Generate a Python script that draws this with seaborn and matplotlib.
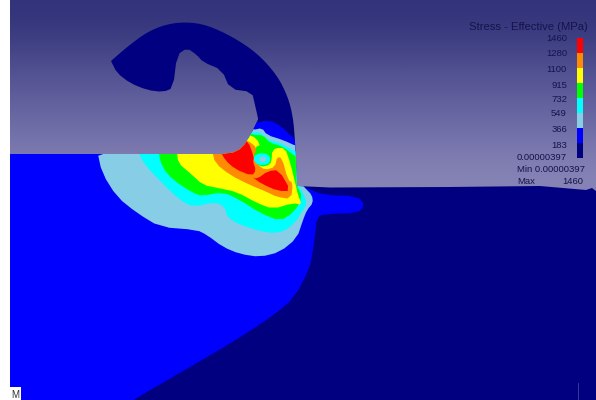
import numpy as np
import matplotlib
matplotlib.use('Agg')
import matplotlib.pyplot as plt
from matplotlib.colors import ListedColormap, to_rgb
from matplotlib.patches import Polygon
import seaborn as sns

# contour colours and legend
band_colors = ['#000080', '#0000ff', '#87cde6', '#00ffff', '#00ff00', '#ffff00', '#ff8c00', '#ff0000']
tick_labels = ['1460', '1280', '1100', '915', '732', '549', '366', '183']
legend_title = 'Stress - Effective (MPa)'
min_label = '0.00000397'

# background gradient, top to bottom
sky_colors = ['#32337a', '#4a4a8c', '#605e9c', '#7472aa', '#8784b6']

# outlines, in picture pixels
hook_inner = [(222, 154), (237, 152), (247, 142), (258, 120), (258, 118), (255, 105),
              (252, 92), (230, 89), (222, 70), (203, 62), (197, 55), (187, 48), (177, 55), (173, 88), (163, 92),
              (147, 90), (130, 83), (117, 73), (111, 61)]
hook_outer = [(111, 61), (127, 47), (147, 32), (167, 24), (187, 22), (207, 25),
              (233, 37), (257, 53), (277, 75), (288, 97), (293, 117), (295, 140), (297, 186)]
surface = [(297, 186), (330, 187.5), (450, 187), (540, 186), (586, 190), (592, 188), (596, 191)]
blue_zone = [(-80, 100), (240, 120), (258, 123), (267, 120), (280, 125), (293, 138), (300, 141), (300, 186),
             (307, 188), (323, 195), (357, 196), (365, 205), (358, 213), (325, 214), (317, 217), (315, 235), (313, 250),
             (310, 267), (295, 297), (274, 315), (236, 340), (190, 367), (133, 400), (70, 440), (-80, 440)]
light_zone = [(97, 150), (240, 125), (253, 130), (262, 128), (267, 135), (283, 140), (296, 146), (300, 146),
              (300, 182), (305, 188), (312, 195), (313, 203), (307, 210), (303, 220), (297, 238), (280, 252),
              (260, 257), (240, 254), (223, 247), (207, 235), (197, 230), (160, 227), (137, 213), (117, 197),
              (102, 173)]
cyan_zone = [(137, 150), (240, 128), (253, 133), (260, 132), (268, 140), (280, 143), (296, 152), (300, 152),
             (297, 183), (303, 193), (307, 203), (303, 210), (295, 223), (283, 232), (267, 233), (240, 225),
             (227, 217), (225, 207), (215, 202), (193, 207), (180, 200), (162, 183), (145, 165)]
green_zone = [(158, 150), (240, 130), (253, 135), (263, 135), (270, 143), (282, 146), (296, 157), (300, 157),
              (295, 182), (303, 198), (293, 213), (280, 221), (260, 213), (240, 200), (223, 192), (202, 196),
              (193, 193), (173, 180), (162, 167)]
yellow_zone = [(177, 150), (240, 135), (252, 135), (260, 143), (258, 150), (268, 156), (272, 153), (275, 148),
               (285, 148), (290, 162), (295, 182), (298, 195), (302, 205), (293, 203), (273, 209), (257, 203),
               (237, 192), (218, 188), (203, 185), (190, 173), (178, 163)]
green_pocket = [(258, 145), (272, 145), (272, 158), (270, 165), (260, 167), (253, 160), (254, 150)]
orange_zone = [(212, 150), (245, 140), (250, 142), (257, 148), (253, 158), (258, 165), (265, 170), (275, 167),
               (277, 157), (282, 158), (288, 180), (293, 183), (291, 199), (277, 197), (267, 192), (250, 185),
               (230, 175), (215, 163)]
red_left = [(220, 150), (240, 138), (248, 141), (254, 157), (253, 162), (256, 170), (252, 176), (235, 169), (225, 160)]
red_right = [(252, 177), (257, 179), (268, 171), (279, 170), (291, 191), (278, 191), (262, 184)]
blob_outer = [(254, 156), (260, 153), (268, 154), (271, 160), (267, 165), (258, 165), (254, 161)]
blob_inner = [(259, 158), (263, 156), (267, 158), (265, 162), (260, 162)]


def round_off(points, closed=True, passes=1):
    # corner cutting, so the traced outlines do not look like polygons
    pts = np.array(points, dtype=float)
    for _ in range(passes):
        nxt = np.roll(pts, -1, axis=0)
        q = 0.75 * pts + 0.25 * nxt
        r = 0.25 * pts + 0.75 * nxt
        new = np.empty((len(pts) * 2, 2))
        new[0::2] = q
        new[1::2] = r
        if not closed:
            new = np.vstack([pts[0], new[:-2], pts[-1]])
        pts = new
    return pts


sns.set_theme(style='white')
plt.rcParams['font.family'] = ['Liberation Sans', 'DejaVu Sans']

fig = plt.figure(figsize=(5.96, 4), dpi=100)
ax = fig.add_axes([0, 0, 1, 1])
sky = np.array([[to_rgb(c)] for c in sky_colors])
ax.imshow(sky, extent=(10, 596, 195, 0), aspect='auto', interpolation='bicubic', zorder=0)

part_outline = np.vstack([[(10, 400), (10, 154)],
                          round_off(hook_inner, closed=False),
                          round_off(hook_outer, closed=False, passes=2),
                          surface,
                          [(596, 400)]])
ax.add_patch(Polygon(part_outline, closed=True, fc=band_colors[0], ec='none', zorder=1))
clip = Polygon(part_outline, closed=True, transform=ax.transData)
zones = [(blue_zone, band_colors[1]), (light_zone, band_colors[2]), (cyan_zone, band_colors[3]),
         (green_zone, band_colors[4]), (yellow_zone, band_colors[5]), (green_pocket, band_colors[4]),
         (orange_zone, band_colors[6]), (red_left, band_colors[7]), (red_right, band_colors[7]),
         (blob_outer, band_colors[3]), (blob_inner, band_colors[2])]
for i, (zone, col) in enumerate(zones):
    p = Polygon(round_off(zone), closed=True, fc=col, ec='none', zorder=2 + i)
    ax.add_patch(p)
    p.set_clip_path(clip)

ax.set_xlim(0, 596)
ax.set_ylim(400, 0)
ax.axis('off')

txt = '#14144a'
ax.text(588, 27, legend_title, fontsize=8.1, color=txt, ha='right', va='center', zorder=30)
tick_y = [38.5, 54, 69.5, 85, 99, 114, 130, 145]
for y, lab in zip(tick_y, tick_labels):
    ax.text(567, y, lab, fontsize=6.8, color=txt, ha='right', va='center', zorder=30)
ax.text(517, 158, min_label, fontsize=6.8, color=txt, va='center', zorder=30)
ax.text(517, 169, 'Min ' + min_label, fontsize=6.8, color=txt, va='center', zorder=30)
ax.text(517, 181, 'Max', fontsize=6.8, color=txt, va='center', zorder=30)
ax.text(583, 181, tick_labels[0], fontsize=6.8, color=txt, ha='right', va='center', zorder=30)

# white corner tag and the thin tick at the bottom right
ax.add_patch(Polygon([(10, 387), (21, 387), (21, 400), (10, 400)], closed=True, fc='white', ec='none', zorder=30))
ax.text(15.5, 394.5, 'M', fontsize=7, color='#333333', ha='center', va='center', zorder=31)
ax.plot([578, 578], [383, 400], color='#3a3a9a', lw=0.7, zorder=30)

# legend strip
cax = fig.add_axes([577 / 596, 1 - 158 / 400, 5.5 / 596, 120 / 400])
sns.heatmap(np.arange(len(tick_labels))[::-1].reshape(-1, 1), cmap=ListedColormap(band_colors), cbar=False,
            xticklabels=False, yticklabels=False, ax=cax)

fig.savefig('out.png', dpi=100)
